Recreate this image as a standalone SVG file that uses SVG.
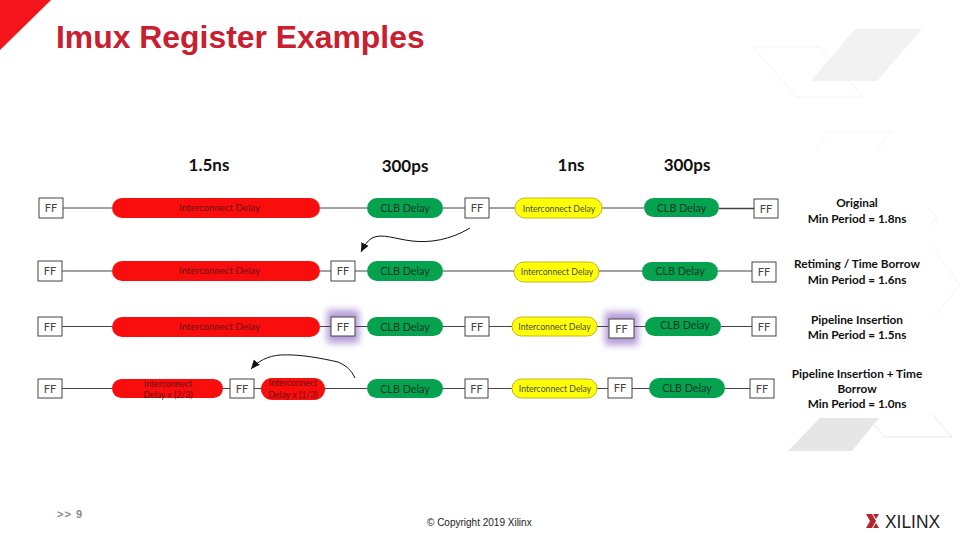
<svg xmlns="http://www.w3.org/2000/svg" width="960" height="540" viewBox="0 0 960 540">
<defs>
<filter id="glow" x="-60%" y="-60%" width="220%" height="220%"><feGaussianBlur stdDeviation="3.500"/></filter>
<marker id="arr" markerWidth="10" markerHeight="10" refX="9" refY="4" orient="auto" markerUnits="userSpaceOnUse"><path d="M0,0 L9,4 L0,8 Z" fill="#111"/></marker>
</defs>
<style>
text{font-family:Lato,"Liberation Sans",sans-serif}
.ff rect{fill:#fff;stroke:#444;stroke-width:1}
.ff text{font-size:11px;fill:#444;text-anchor:middle}
.red rect{fill:#f90d0d;stroke:none}
.red text{font-size:9.700px;fill:#6a0f0f;text-anchor:middle}
.red text.sm{font-size:8.700px}
.grn rect{fill:#05a24f;stroke:none}
.grn text{font-size:10.800px;fill:#0f3a24;text-anchor:middle}
.yel rect{fill:#ffff0a;stroke:#b9a100;stroke-width:.8}
.yel text{font-size:8.700px;fill:#4d4d2a;text-anchor:middle}
.hd{font-size:17px;font-weight:700;fill:#111;text-anchor:middle}
.lb{font-size:11.800px;font-weight:700;fill:#111;text-anchor:middle}
.cn line{stroke:#444;stroke-width:1}
.cv{fill:none;stroke:#111;stroke-width:1}
.bgl{fill:none;stroke:#f3f3f3;stroke-width:1}
</style>
<g id="background">
<polygon points="855,29 922,29 877,81 811,81" fill="#f2f2f2"/>
<polygon points="753,47 819,47 863,97 797,97" class="bgl"/>
<path d="M816,148 L828,132 H892 L878,148" class="bgl"/>
<path d="M930,210 L937,217 L930,225" class="bgl"/>
<path d="M930,245 L960,285 L935,315" class="bgl"/>
<polygon points="820,418 879,418 852,451 788,451" fill="#e6e6e6"/>
<path d="M868,418 L885,437 H952 L933,415" fill="none" stroke="#e9e9e9"/>
</g>
<polygon id="corner" points="0,0 51,0 0,50" fill="#f4141c"/>
<text id="title" x="56" y="48" font-size="31.900" font-weight="700" fill="#c8202f" style="font-family:'Liberation Sans',sans-serif">Imux Register Examples</text>
<g id="headers">
<text class="hd" x="209" y="171">1.5ns</text>
<text class="hd" x="405" y="172">300ps</text>
<text class="hd" x="571" y="171">1ns</text>
<text class="hd" x="687" y="171">300ps</text>
</g>
<g id="glows" fill="#b49bd8">
<rect x="327" y="310" width="32" height="33" filter="url(#glow)"/>
<rect x="605" y="312" width="33" height="33" filter="url(#glow)"/>
</g>
<g id="connectors" class="cn">
<line x1="63" y1="208" x2="112" y2="208"/><line x1="320" y1="208" x2="367" y2="208"/><line x1="443" y1="208" x2="465" y2="208"/><line x1="489" y1="208" x2="515" y2="208"/><line x1="602" y1="208" x2="644" y2="208"/><line x1="719" y1="208.500" x2="754" y2="208.500" style="stroke-width:1.500"/>
<line x1="62" y1="271" x2="112" y2="271"/><line x1="320" y1="271" x2="331" y2="271"/><line x1="355" y1="271" x2="367" y2="271"/><line x1="443" y1="271" x2="514" y2="271"/><line x1="599" y1="271" x2="642" y2="271"/><line x1="718" y1="271" x2="752" y2="271"/>
<line x1="62" y1="326.500" x2="112" y2="326.500"/><line x1="320" y1="326.500" x2="331" y2="326.500"/><line x1="355" y1="326.500" x2="367" y2="326.500"/><line x1="443" y1="326.500" x2="465" y2="326.500"/><line x1="489" y1="326.500" x2="512" y2="326.500"/><line x1="597" y1="326.500" x2="609" y2="326.500"/><line x1="634" y1="326.500" x2="645" y2="326.500"/><line x1="721" y1="326.500" x2="752" y2="326.500"/>
<line x1="62" y1="388.500" x2="112" y2="388.500"/><line x1="223" y1="388.500" x2="230" y2="388.500"/><line x1="254" y1="388.500" x2="261" y2="388.500"/><line x1="325" y1="388.500" x2="367" y2="388.500"/><line x1="443" y1="388.500" x2="465" y2="388.500"/><line x1="488" y1="388.500" x2="512" y2="388.500"/><line x1="597" y1="388.500" x2="608" y2="388.500"/><line x1="632" y1="388.500" x2="649" y2="388.500"/><line x1="725" y1="388.500" x2="750" y2="388.500"/>
<path class="cv" d="M470,228 C450,240 430,243 412,241 C395,239 382,233 372,238 C367,241 364,246 361,252" marker-end="url(#arr)"/>
<path class="cv" d="M355,378 C351,370 347,366 338,362 C320,358 300,354 280,355 C268,356 258,361 251,369" marker-end="url(#arr)"/>
</g>
<g id="r1-ff1" class="ff"><rect x="39" y="198" width="24" height="20"/><text x="51" y="212">FF</text></g>
<g id="r1-ic" class="red"><rect x="112" y="198" width="208" height="20" rx="10"/><text x="219.500" y="211">Interconnect Delay</text></g>
<g id="r1-clb" class="grn"><rect x="367" y="198" width="76" height="20" rx="10"/><text x="405" y="212">CLB Delay</text></g>
<g id="r1-ff2" class="ff"><rect x="465" y="198" width="24" height="20"/><text x="477" y="212">FF</text></g>
<g id="r1-yic" class="yel"><rect x="515" y="198" width="87" height="20" rx="10"/><text x="559" y="212">Interconnect Delay</text></g>
<g id="r1-clb2" class="grn"><rect x="644" y="198" width="75" height="19" rx="9.500"/><text x="681.500" y="212">CLB Delay</text></g>
<g id="r1-ff3" class="ff"><rect x="754" y="199" width="24" height="19"/><text x="766" y="213">FF</text></g>
<g id="r2-ff1" class="ff"><rect x="38" y="261" width="24" height="20"/><text x="50" y="275">FF</text></g>
<g id="r2-ic" class="red"><rect x="112" y="261" width="208" height="20" rx="10"/><text x="219.500" y="274">Interconnect Delay</text></g>
<g id="r2-ff2" class="ff"><rect x="331" y="261" width="24" height="20"/><text x="343" y="275">FF</text></g>
<g id="r2-clb" class="grn"><rect x="367" y="261" width="76" height="20" rx="10"/><text x="405" y="275">CLB Delay</text></g>
<g id="r2-yic" class="yel"><rect x="514" y="262" width="85" height="20" rx="10"/><text x="557" y="275">Interconnect Delay</text></g>
<g id="r2-clb2" class="grn"><rect x="642" y="262" width="76" height="19" rx="9.500"/><text x="680" y="275">CLB Delay</text></g>
<g id="r2-ff3" class="ff"><rect x="752" y="262" width="24" height="20"/><text x="764" y="276">FF</text></g>
<g id="r3-ff1" class="ff"><rect x="38" y="317" width="24" height="19"/><text x="50" y="331">FF</text></g>
<g id="r3-ic" class="red"><rect x="112" y="317" width="208" height="20" rx="10"/><text x="219.500" y="330">Interconnect Delay</text></g>
<g id="r3-ff2" class="ff"><rect x="331" y="317" width="24" height="19"/><text x="343" y="331">FF</text></g>
<g id="r3-clb" class="grn"><rect x="367" y="317" width="76" height="19" rx="9.500"/><text x="405" y="331">CLB Delay</text></g>
<g id="r3-ff3" class="ff"><rect x="465" y="317" width="24" height="19"/><text x="477" y="331">FF</text></g>
<g id="r3-yic" class="yel"><rect x="512" y="317" width="85" height="19" rx="9.500"/><text x="554.500" y="330">Interconnect Delay</text></g>
<g id="r3-ff4" class="ff"><rect x="609" y="319" width="25" height="19"/><text x="621.500" y="333">FF</text></g>
<g id="r3-clb2" class="grn"><rect x="645" y="317" width="76" height="19" rx="9.500"/><text x="685" y="329">CLB Delay</text></g>
<g id="r3-ff5" class="ff"><rect x="752" y="317" width="24" height="19"/><text x="764" y="331">FF</text></g>
<g id="r4-ff1" class="ff"><rect x="38" y="379" width="24" height="19"/><text x="50" y="393">FF</text></g>
<g id="r4-ic1" class="red"><rect x="112" y="379" width="111" height="19" rx="9.500"/><text class="sm" x="168" y="387">Interconnect</text><text class="sm" x="168" y="398">Delay x (2/3)</text></g>
<g id="r4-ff2" class="ff"><rect x="230" y="379" width="24" height="19"/><text x="242" y="393">FF</text></g>
<g id="r4-ic2" class="red"><rect x="261" y="378" width="64" height="22" rx="11"/><text class="sm" x="293" y="386">Interconnect</text><text class="sm" x="293" y="398">Delay x (1/3)</text></g>
<g id="r4-clb" class="grn"><rect x="367" y="379" width="76" height="19" rx="9.500"/><text x="405" y="393">CLB Delay</text></g>
<g id="r4-ff3" class="ff"><rect x="465" y="379" width="23" height="19"/><text x="476.500" y="393">FF</text></g>
<g id="r4-yic" class="yel"><rect x="512" y="379" width="85" height="19" rx="9.500"/><text x="555" y="392">Interconnect Delay</text></g>
<g id="r4-ff4" class="ff"><rect x="608" y="378" width="24" height="20"/><text x="620" y="392">FF</text></g>
<g id="r4-clb2" class="grn"><rect x="649" y="378" width="76" height="20" rx="10"/><text x="687" y="392">CLB Delay</text></g>
<g id="r4-ff5" class="ff"><rect x="750" y="379" width="24" height="19"/><text x="762" y="393">FF</text></g>
<g id="labels">
<text class="lb" x="857" y="207">Original</text><text class="lb" x="857" y="223">Min Period = 1.8ns</text>
<text class="lb" x="857" y="268">Retiming / Time Borrow</text><text class="lb" x="857" y="284">Min Period = 1.6ns</text>
<text class="lb" x="857" y="324">Pipeline Insertion</text><text class="lb" x="857" y="339">Min Period = 1.5ns</text>
<text class="lb" x="857" y="378">Pipeline Insertion + Time</text><text class="lb" x="857" y="393">Borrow</text><text class="lb" x="857" y="408">Min Period = 1.0ns</text>
</g>
<g id="footer">
<text x="57" y="518" font-size="11" font-weight="700" letter-spacing="1" fill="#8a8a8a" style="font-family:'Liberation Sans',sans-serif">&gt;&gt; 9</text>
<text x="427" y="526" font-size="10" fill="#222" style="font-family:'Liberation Sans',sans-serif">© Copyright 2019 Xilinx</text>
</g>
<g id="logo">
<g fill="#b3262e"><polygon points="866,514 872,514 876,521 872,528 866,528 870,521"/><polygon points="873,514 879,514 876,519"/><polygon points="873,528 879,528 876,523"/></g>
<text x="885" y="527.500" font-size="18" textLength="55" lengthAdjust="spacingAndGlyphs" fill="#222" style="font-family:'Liberation Sans',sans-serif">XILINX</text>
</g>
</svg>
